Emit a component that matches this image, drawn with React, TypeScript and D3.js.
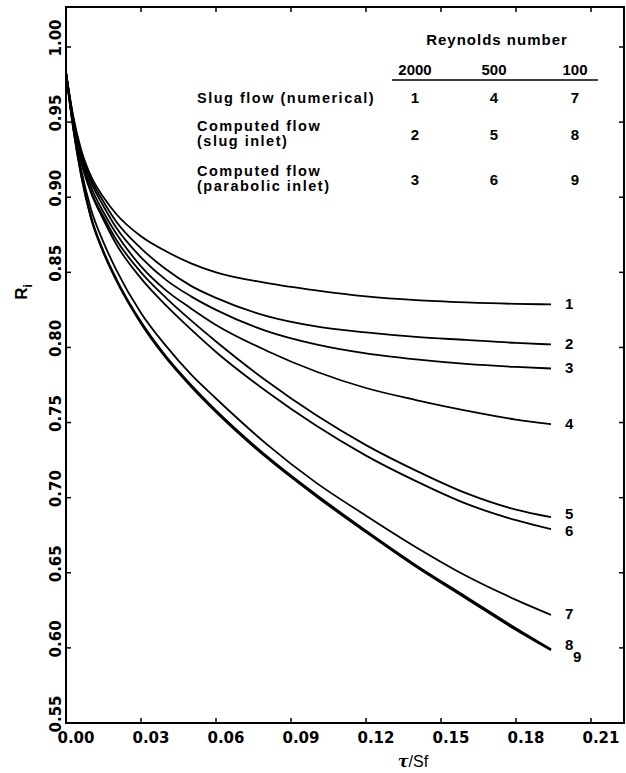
import React from "react";
import * as d3 from "d3";

// dimensionless time tau/Sf at which the curves were read
const tau = [0, 0.003, 0.006, 0.01, 0.015, 0.02, 0.03, 0.04, 0.05, 0.06, 0.08, 0.1, 0.12, 0.14, 0.16, 0.18, 0.194];

const curve1 = [0.983, 0.953, 0.932, 0.914, 0.9, 0.889, 0.874, 0.864, 0.856, 0.85, 0.843, 0.838, 0.834, 0.8315, 0.83, 0.829, 0.8287];
const curve2 = [0.983, 0.952, 0.93, 0.912, 0.897, 0.884, 0.866, 0.852, 0.841, 0.833, 0.821, 0.814, 0.81, 0.807, 0.805, 0.803, 0.802];
const curve3 = [0.983, 0.951, 0.929, 0.91, 0.894, 0.88, 0.86, 0.845, 0.834, 0.825, 0.811, 0.802, 0.796, 0.792, 0.789, 0.787, 0.786];
const curve4 = [0.983, 0.95, 0.927, 0.907, 0.89, 0.876, 0.854, 0.838, 0.826, 0.815, 0.798, 0.784, 0.773, 0.765, 0.758, 0.752, 0.749];
const curve5 = [0.983, 0.949, 0.925, 0.904, 0.887, 0.872, 0.85, 0.833, 0.818, 0.804, 0.778, 0.755, 0.735, 0.718, 0.703, 0.692, 0.687];
const curve6 = [0.983, 0.949, 0.924, 0.903, 0.885, 0.869, 0.846, 0.828, 0.812, 0.797, 0.771, 0.748, 0.728, 0.711, 0.696, 0.685, 0.679];
const curve7 = [0.983, 0.946, 0.919, 0.892, 0.87, 0.852, 0.823, 0.801, 0.782, 0.766, 0.736, 0.71, 0.688, 0.667, 0.648, 0.632, 0.622];
const curve8 = [0.983, 0.945, 0.916, 0.887, 0.864, 0.846, 0.817, 0.794, 0.775, 0.758, 0.728, 0.702, 0.678, 0.655, 0.634, 0.613, 0.599];
const curve9 = [0.983, 0.945, 0.915, 0.886, 0.863, 0.845, 0.816, 0.793, 0.774, 0.757, 0.727, 0.701, 0.677, 0.654, 0.633, 0.612, 0.5985];

const curves = [curve1, curve2, curve3, curve4, curve5, curve6, curve7, curve8, curve9];
const curveNames = ["1", "2", "3", "4", "5", "6", "7", "8", "9"];

const xTicks = [0, 0.03, 0.06, 0.09, 0.12, 0.15, 0.18, 0.21];
const yTicks = [0.55, 0.6, 0.65, 0.7, 0.75, 0.8, 0.85, 0.9, 0.95, 1.0];

const reynolds = ["2000", "500", "100"];
const rowLabels = [["Slug flow (numerical)"], ["Computed flow", "(slug inlet)"], ["Computed flow", "(parabolic inlet)"]];
const curveGrid = [["1", "4", "7"], ["2", "5", "8"], ["3", "6", "9"]];

// small nudges for the end labels so they don't collide
const labelNudge = { "5": [0, -3], "6": [0, 2], "7": [0, -1], "8": [0, -4], "9": [8, 7] };

const App = () => {
  const W = 626;
  const H = 773;
  const left = 66;
  const right = 624;
  const top = 7;
  const bottom = 723;

  const x = d3.scaleLinear().domain([0, 0.21]).range([left, 591]);
  const y = d3.scaleLinear().domain([0.55, 1.0]).range([bottom, 47]);

  const line = d3
    .line<number>()
    .x((_, i) => x(tau[i]))
    .y((d) => y(d))
    .curve(d3.curveMonotoneX);

  const tickFont = "'DejaVu Sans', sans-serif";
  const tableFont = "'Liberation Sans', Arial, sans-serif";
  const last = tau.length - 1;

  const rowBase = [103, 131, 176];
  const colX = [415, 494, 575];

  return (
    <svg
      width={W}
      height={H}
      style={{ position: "absolute", left: 0, top: 0, background: "#fff" }}
    >
      <rect x={0} y={0} width={W} height={H} fill="#fff" />

      {/* frame */}
      <path
        d={`M${left},${top}H${right}V${bottom}H${left}Z`}
        fill="none"
        stroke="#000"
        strokeWidth={2}
      />

      {/* x ticks */}
      {xTicks.map((t) => (
        <g key={"x" + t}>
          <line x1={x(t)} x2={x(t)} y1={bottom} y2={bottom - 5} stroke="#000" strokeWidth={1.5} />
          <line x1={x(t)} x2={x(t)} y1={top} y2={top + 5} stroke="#000" strokeWidth={1.5} />
          <text
            x={x(t) + 10}
            y={743}
            textAnchor="middle"
            fontFamily={tickFont}
            fontWeight="bold"
            fontSize={15}
          >
            {d3.format(".2f")(t)}
          </text>
        </g>
      ))}

      {/* y ticks */}
      {yTicks.map((v) => (
        <g key={"y" + v}>
          <line x1={left} x2={left + 5} y1={y(v)} y2={y(v)} stroke="#000" strokeWidth={1.5} />
          <line x1={right} x2={right - 5} y1={y(v)} y2={y(v)} stroke="#000" strokeWidth={1.5} />
          <text
            transform={`translate(61,${y(v) - 9}) rotate(-90)`}
            textAnchor="middle"
            fontFamily={tickFont}
            fontWeight="bold"
            fontSize={15}
          >
            {d3.format(".2f")(v)}
          </text>
        </g>
      ))}

      {/* axis titles */}
      <text x={413} y={767} textAnchor="middle" fontFamily={tableFont} fontSize={16}>
        <tspan fontWeight="bold" fontStyle="italic" fontFamily="'DejaVu Serif', serif">τ</tspan>
        <tspan>/Sf</tspan>
      </text>
      <text
        transform="translate(27,292) rotate(-90)"
        textAnchor="middle"
        fontFamily={tableFont}
        fontWeight="bold"
        fontSize={17}
      >
        R
        <tspan fontSize={12} dy={5}>i</tspan>
      </text>

      {/* curves */}
      {curves.map((c, i) => (
        <path
          key={"c" + i}
          d={line(c) || ""}
          fill="none"
          stroke="#000"
          strokeWidth={i >= 7 ? 2 : 1.8}
        />
      ))}

      {/* curve labels */}
      {curves.map((c, i) => {
        const name = curveNames[i];
        const nudge = labelNudge[name] || [0, 0];
        return (
          <text
            key={"l" + i}
            x={x(tau[last]) + 14 + nudge[0]}
            y={y(c[last]) + 5 + nudge[1]}
            fontFamily={tableFont}
            fontWeight="bold"
            fontSize={15}
          >
            {name}
          </text>
        );
      })}

      {/* legend table */}
      <text x={497} y={45} textAnchor="middle" fontFamily={tableFont} fontWeight="bold" fontSize={15} letterSpacing={1}>
        Reynolds number
      </text>
      {reynolds.map((r, j) => (
        <text
          key={"re" + r}
          x={colX[j]}
          y={75}
          textAnchor="middle"
          fontFamily={tableFont}
          fontWeight="bold"
          fontSize={15}
        >
          {r}
        </text>
      ))}
      <line x1={392} x2={598} y1={80} y2={80} stroke="#000" strokeWidth={1.5} />

      {rowLabels.map((lines, i) => (
        <text
          key={"rl" + i}
          x={197}
          y={rowBase[i]}
          fontFamily={tableFont}
          fontWeight="bold"
          fontSize={14.5}
          letterSpacing={1.5}
        >
          {lines.map((txt, k) => (
            <tspan key={k} x={197} dy={k === 0 ? 0 : 15}>
              {txt}
            </tspan>
          ))}
        </text>
      ))}
      {curveGrid.map((row, i) =>
        row.map((n, j) => (
          <text
            key={"g" + i + j}
            x={colX[j]}
            y={[103, 140, 185][i]}
            textAnchor="middle"
            fontFamily={tableFont}
            fontWeight="bold"
            fontSize={15}
          >
            {n}
          </text>
        ))
      )}
    </svg>
  );
};

export default App;
